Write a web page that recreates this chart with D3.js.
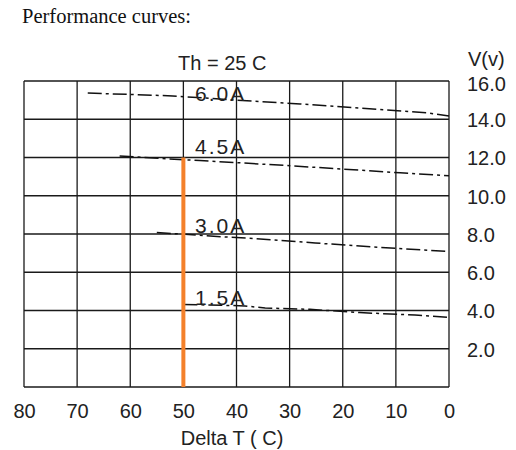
<!DOCTYPE html>
<html>
<head>
<meta charset="utf-8">
<script src="https://cdn.jsdelivr.net/npm/d3@7"></script>
<style>
  body { margin: 0; background: #fff; }
  svg { display: block; }
  .tick-label { font-family: "Liberation Sans", Arial, sans-serif; font-size: 20px; fill: #222; }
</style>
</head>
<body>
<div id="chart"></div>
<script>
// svg area
var svgWidth = 516;
var svgHeight = 450;

// tick values
var deltaTTicks = [80, 70, 60, 50, 40, 30, 20, 10, 0];
var voltTicks = [0, 2, 4, 6, 8, 10, 12, 14, 16];
var voltLabels = ["2.0", "4.0", "6.0", "8.0", "10.0", "12.0", "14.0", "16.0"];

// curves: current label, delta T points, voltage points
var currents = ["6.0A", "4.5A", "3.0A", "1.5A"];
var curveDeltaT = [
    [68, 52, 40, 28, 4, 0],
    [62, 54.4, 46.9, 39.3, 29.4, 9.2, 0],
    [55, 41.8, 37.5, 25.2, 14.3, 0],
    [50, 38.4, 34.6, 26.2, 16.8, 6.4, 0]
];
var curveVolts = [
    [15.37, 15.22, 15.0, 14.8, 14.33, 14.17],
    [12.08, 11.95, 11.84, 11.72, 11.56, 11.2, 11.05],
    [8.08, 7.84, 7.78, 7.53, 7.32, 7.08],
    [4.32, 4.24, 4.13, 4.06, 3.89, 3.76, 3.64]
];
// where each current label sits (delta T, volts)
var labelDeltaT = [47.8, 47.8, 47.8, 47.8];
var labelVolts = [14.97, 12.2, 8.07, 4.3];

// operating point marker
var markerDeltaT = 50;
var markerVolts = [0, 12];

var svg = d3.select("#chart")
    .append("svg")
    .attr("width", svgWidth)
    .attr("height", svgHeight);

// title
svg.append("text")
    .attr("x", 22)
    .attr("y", 23)
    .attr("font-family", "'Liberation Serif', 'Times New Roman', serif")
    .attr("font-size", "20.5px")
    .attr("fill", "#111")
    .text("Performance curves:");

// scales
var x = d3.scaleLinear().domain([80, 0]).range([24, 449]);
var y = d3.scaleLinear().domain([0, 16]).range([387, 81]);

var chartGroup = svg.append("g");

// grid
chartGroup.append("g")
    .selectAll("line")
    .data(deltaTTicks)
    .enter()
    .append("line")
    .attr("x1", d => x(d))
    .attr("x2", d => x(d))
    .attr("y1", y(16))
    .attr("y2", y(0))
    .attr("stroke", "#1a1a1a")
    .attr("stroke-width", 1.3);

chartGroup.append("g")
    .selectAll("line")
    .data(voltTicks)
    .enter()
    .append("line")
    .attr("x1", x(80))
    .attr("x2", x(0))
    .attr("y1", d => y(d))
    .attr("y2", d => y(d))
    .attr("stroke", "#1a1a1a")
    .attr("stroke-width", 1.3);

// x axis labels (custom, no domain line)
var bottomAxis = d3.axisBottom(x).tickValues(deltaTTicks).tickSize(0).tickPadding(0);
var xAxisG = chartGroup.append("g")
    .attr("transform", `translate(0, ${y(0) + 31})`)
    .call(bottomAxis);
xAxisG.select(".domain").remove();
xAxisG.selectAll("text")
    .attr("class", "tick-label")
    .attr("dy", 0)
    .attr("font-size", null)
    .attr("font-family", null)
    .attr("fill", null);

// y axis labels on the right
var rightAxis = d3.axisRight(y)
    .tickValues(voltTicks.slice(1))
    .tickFormat((d, i) => voltLabels[i])
    .tickSize(0)
    .tickPadding(0);
var yAxisG = chartGroup.append("g")
    .attr("transform", `translate(467, 0)`)
    .call(rightAxis);
yAxisG.select(".domain").remove();
yAxisG.selectAll("text")
    .attr("class", "tick-label")
    .attr("dy", d => d === 16 ? "0.47em" : "0.37em")
    .attr("font-size", null)
    .attr("font-family", null)
    .attr("fill", null);

// curves
var line = d3.line()
    .x(d => x(d[0]))
    .y(d => y(d[1]));

currents.forEach(function(c, i) {
    var pts = curveDeltaT[i].map((t, j) => [t, curveVolts[i][j]]);
    chartGroup.append("path")
        .datum(pts)
        .attr("d", line)
        .attr("fill", "none")
        .attr("stroke", "#111")
        .attr("stroke-width", 1.5)
        .attr("stroke-dasharray", "14,4,3,4");
});

// operating point marker
chartGroup.append("line")
    .attr("x1", x(markerDeltaT))
    .attr("x2", x(markerDeltaT))
    .attr("y1", y(markerVolts[1]))
    .attr("y2", y(markerVolts[0]))
    .attr("stroke", "#f4812b")
    .attr("stroke-width", 4);

// current labels
chartGroup.append("g")
    .selectAll("text")
    .data(currents)
    .enter()
    .append("text")
    .attr("class", "tick-label")
    .attr("x", (d, i) => x(labelDeltaT[i]))
    .attr("y", (d, i) => y(labelVolts[i]))
    .attr("letter-spacing", "2px")
    .attr("font-size", "21px")
    .style("font-size", "21px")
    .text(d => d);

// header labels
svg.append("text")
    .attr("class", "tick-label")
    .attr("x", 178)
    .attr("y", 70)
    .text("Th = 25 C");

svg.append("text")
    .attr("class", "tick-label")
    .attr("x", 468)
    .attr("y", 66)
    .text("V(v)");

svg.append("text")
    .attr("class", "tick-label")
    .attr("x", 232)
    .attr("y", 445)
    .attr("text-anchor", "middle")
    .text("Delta T ( C)");
</script>
</body>
</html>
